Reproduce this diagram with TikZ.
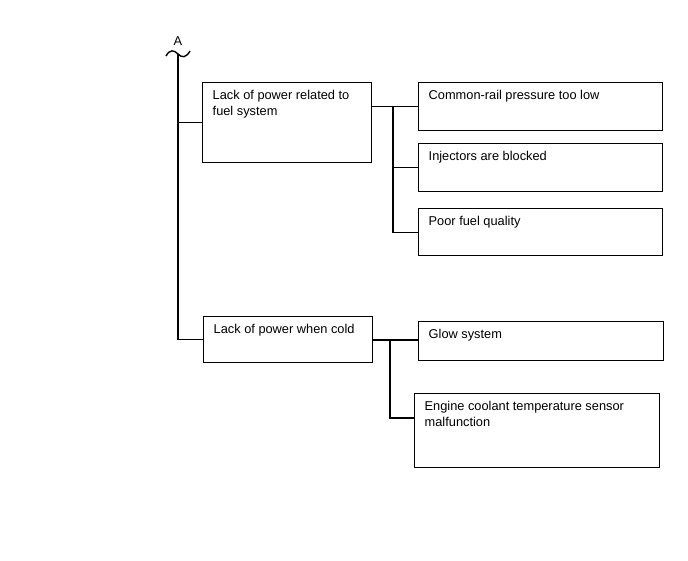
\documentclass[tikz,border=0pt]{standalone}
\usepackage{fontspec}
\setmainfont{Liberation Sans}
\begin{document}
\begin{tikzpicture}[x=1pt,y=-1pt,
  line/.style={draw=black,line width=1.4pt},
  cbox/.style={draw=black,line width=1.4pt,anchor=north west,inner xsep=10pt,inner ysep=7.5pt,font=\fontsize{12.8}{16}\selectfont,fill=white}]
\useasboundingbox[fill=white] (0,0) rectangle (688,560);
\newcommand\bx[3]{\parbox[t][\dimexpr#2pt-15pt\relax][t]{\dimexpr#1pt-20pt\relax}{\raggedright #3}}
% boxes
\node[cbox] (b1) at (202,82) {\bx{169}{80}{Lack of power related to fuel system}};
\node[cbox] (b2) at (203,316) {\bx{169}{46}{Lack of power when cold}};
\node[cbox] (c1) at (418,82) {\bx{244}{48}{Common-rail pressure too low}};
\node[cbox] (c2) at (418,143) {\bx{244}{48}{Injectors are blocked}};
\node[cbox] (c3) at (418,208) {\bx{244}{47}{Poor fuel quality}};
\node[cbox] (d1) at (418,321) {\bx{245}{39}{Glow system}};
\node[cbox] (d2) at (414,393) {\bx{245}{74}{Engine coolant temperature sensor malfunction}};
% trunk
\node[font=\fontsize{12.8}{16}\selectfont,inner sep=0pt] (A) at (178,41) {A};
\coordinate (top) at (178,54);
\draw[line] (166,56) .. controls (170,49) and (174,50) .. (top) .. controls (182,58) and (186,58) .. (190,51);
\draw[line] (top) |- (b2.west);
\draw[line] (b1.west -| top) -- (b1.west);
% group 1
\coordinate (bus1) at (393,106);
\draw[line] (c1.west -| b1.east) -- (c1.west);
\draw[line] (bus1) |- (c3.west);
\draw[line] (bus1 |- c2.west) -- (c2.west);
% group 2
\coordinate (bus2) at (390,340);
\coordinate (e2) at (414,418);
\draw[line] (bus2 -| b2.east) -- (bus2 -| d1.west);
\draw[line] (bus2) |- (e2);
\end{tikzpicture}
\end{document}
